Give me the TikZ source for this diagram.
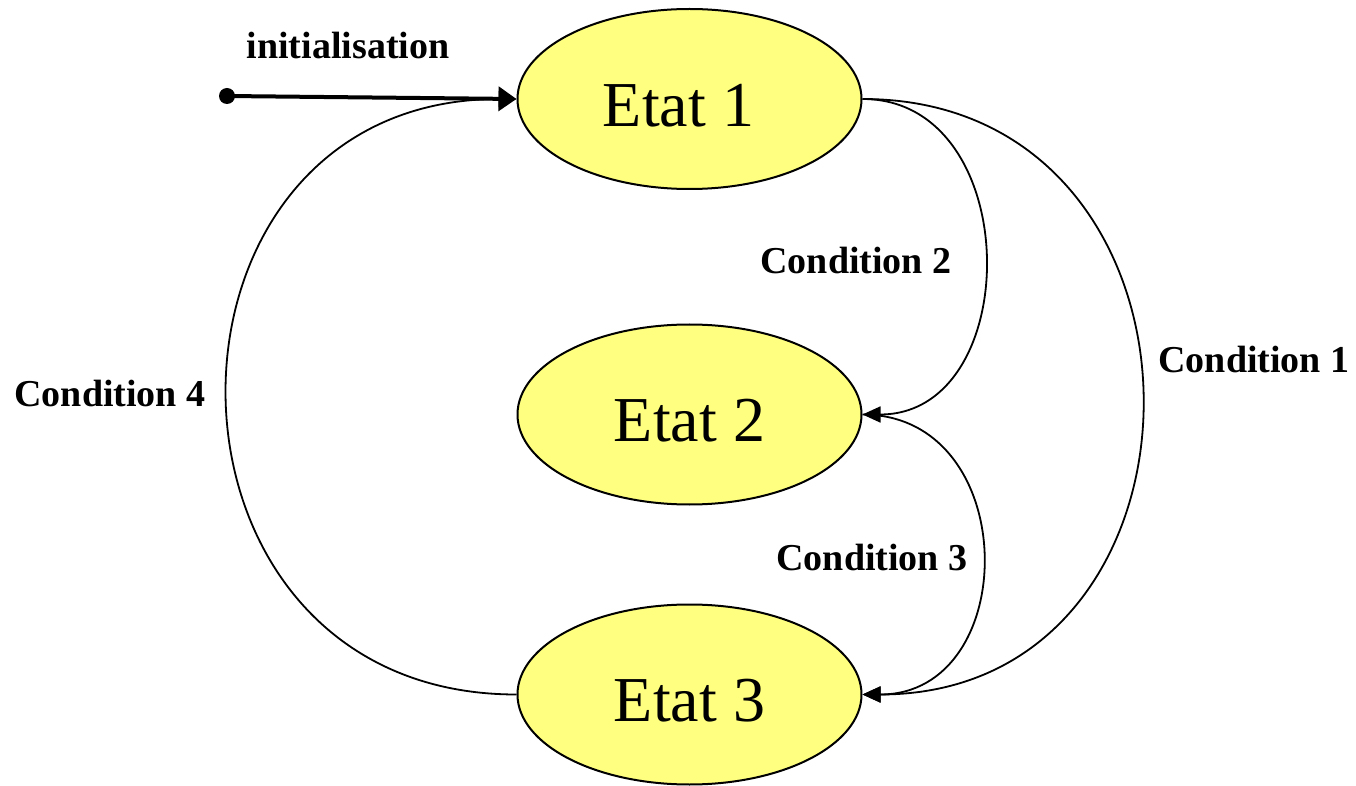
\documentclass[tikz,border=0pt]{standalone}
\usepackage{fontspec}
\setmainfont{Liberation Serif}
\usetikzlibrary{shapes.geometric,arrows.meta}
\definecolor{etatfill}{RGB}{255,255,128}
\newcommand{\etatlow}[1]{\raisebox{-3pt}[0.66em][0pt]{#1}}
\tikzset{
  etat/.style={ellipse,draw=black,line width=1pt,fill=etatfill,minimum width=172pt,minimum height=90pt,inner sep=0pt,font=\fontsize{32}{36}\selectfont},
  condlabel/.style={font=\bfseries\fontsize{19}{22}\selectfont,inner sep=0pt},
  trans/.style={line width=0.9pt,-{Triangle[length=9pt,width=8pt]}},
  initarrow/.style={line width=2pt,-{Triangle[length=9pt,width=12pt]}}
}
\begin{document}
\begin{tikzpicture}[x=0.5pt,y=-0.5pt]
\useasboundingbox (0,0) rectangle (1356,786);
\node[etat] (e1) at (689.5,99) {\etatlow{Etat 1}\rule{11pt}{0pt}};
\node[etat] (e2) at (689.5,414.5) {\etatlow{Etat 2}};
\node[etat] (e3) at (689.5,694.5) {\etatlow{Etat 3}};
\coordinate (init) at (227,96);
\fill (init) circle (4pt);
\draw[initarrow] (init) -- (e1.west);
\draw[trans] (e1.east) .. controls +(372,0) and +(372,0) .. (e3.east);
\draw[trans] (e1.east) .. controls +(163,0) and +(163,0) .. (e2.east);
\draw[trans] (e2.east) .. controls +(160,0) and +(160,0) .. (e3.east);
\draw[trans] (e3.west) .. controls +(-385,0) and +(-385,0) .. (e1.west);
\node[condlabel] (linit) at (348,46) {initialisation};
\node[condlabel] (l2) at (856,261) {Condition 2};
\node[condlabel] (l1) at (1254,360) {Condition 1};
\node[condlabel] (l4) at (110,394) {Condition 4};
\node[condlabel] (l3) at (872,558) {Condition 3};
\end{tikzpicture}
\end{document}
